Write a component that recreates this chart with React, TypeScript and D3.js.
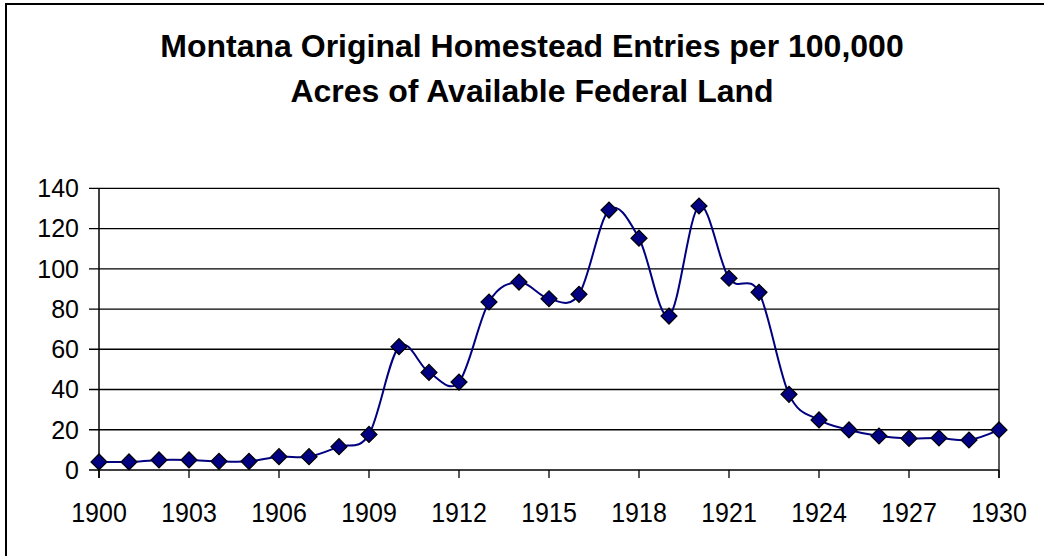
import React from 'react';
import * as d3 from 'd3';

// homestead entries per 100,000 acres
const years = d3.range(1900, 1931);
const entries = [
  4, 4, 5, 5, 4.3, 4.3, 6.6, 6.6, 11.6, 17.7,
  61.3, 48.5, 43.7, 83.5, 93.4, 85.1, 87.3, 129.2, 115.2, 76.5,
  131.2, 95.3, 88.3, 37.6, 24.9, 19.9, 16.9, 15.7, 15.9, 14.9,
  19.9,
];
const yTicks = [0, 20, 40, 60, 80, 100, 120, 140];
const xTicks = d3.range(1900, 1931, 3);
const titleLines = [
  'Montana Original Homestead Entries per 100,000',
  'Acres of Available Federal Land',
];

const W = 1044;
const H = 556;
const plot = { left: 99, right: 999, top: 188.3, bottom: 470 };
const font = '"Liberation Sans", Arial, sans-serif';

export default function App() {
  const x = d3.scaleLinear().domain([1900, 1930]).range([plot.left, plot.right]);
  const y = d3.scaleLinear().domain([0, 140]).range([plot.bottom, plot.top]);

  const pts = years.map((yr, i) => ({ yr, v: entries[i] }));

  const line = d3
    .line<{ yr: number; v: number }>()
    .x(d => x(d.yr))
    .y(d => y(d.v))
    .curve(d3.curveCardinal.tension(0));

  const diamond = d3.symbol().type(d3.symbolSquare).size(128)();

  return (
    <svg
      width={W}
      height={H}
      style={{ position: 'absolute', left: 0, top: 0, background: '#fff' }}
      fontFamily={font}
    >
      <rect x={0} y={0} width={W} height={H} fill="#fff" />
      {/* chart border, runs off the right and bottom edge */}
      <rect x={6} y={4} width={W + 50} height={H + 50} fill="none" stroke="#000" strokeWidth={2} />

      {titleLines.map((t, i) => (
        <text
          key={i}
          x={532}
          y={57 + i * 44.5}
          textAnchor="middle"
          fontSize={32}
          fontWeight="bold"
          fill="#000"
        >
          {t}
        </text>
      ))}

      {/* gridlines */}
      {yTicks.map(t => (
        <line
          key={'g' + t}
          x1={plot.left - 10}
          x2={plot.right}
          y1={y(t)}
          y2={y(t)}
          stroke="#000"
          strokeWidth={1.3}
        />
      ))}
      <line x1={plot.right} x2={plot.right} y1={plot.top} y2={plot.bottom + 8} stroke="#000" strokeWidth={1.3} />
      <line x1={plot.left} x2={plot.left} y1={plot.top} y2={plot.bottom + 8} stroke="#000" strokeWidth={1.5} />

      {yTicks.map(t => (
        <text key={'yl' + t} x={79} y={y(t)} dy="0.35em" textAnchor="end" fontSize={25} fill="#000">
          {t}
        </text>
      ))}

      {xTicks.map(t => (
        <g key={'xt' + t}>
          <line x1={x(t)} x2={x(t)} y1={plot.bottom} y2={plot.bottom + 8} stroke="#000" strokeWidth={1.3} />
          <text
            transform={`translate(${x(t)},521.5) scale(1,1.12)`}
            textAnchor="middle"
            fontSize={25}
            fill="#000"
          >
            {t}
          </text>
        </g>
      ))}

      <path d={line(pts) || ''} fill="none" stroke="#000080" strokeWidth={2} />

      {pts.map(d => (
        <path
          key={d.yr}
          d={diamond || ''}
          transform={`translate(${x(d.yr)},${y(d.v)}) rotate(45)`}
          fill="#000080"
          stroke="#000"
          strokeWidth={1.2}
        />
      ))}
    </svg>
  );
}
